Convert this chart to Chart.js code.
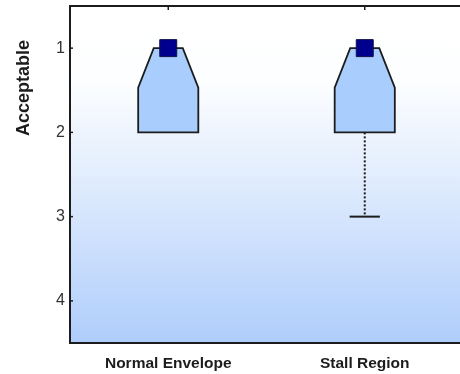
<!DOCTYPE html>
<html>
<head>
<meta charset="utf-8">
<script src="https://cdn.jsdelivr.net/npm/chart.js@4/dist/chart.umd.min.js"></script>
<style>
  html, body { margin: 0; padding: 0; background: #fff; overflow: hidden; width: 460px; height: 374px; }
  #wrap { width: 470px; height: 374px; }
</style>
</head>
<body>
<div id="wrap"><canvas id="c" width="470" height="374"></canvas></div>
<script>
// Ratings per flight condition (1 = best)
const categories = ['Normal Envelope', 'Stall Region'];
const lowerQuartile = [1, 1];
const medianRating = [1, 1];
const upperQuartile = [2, 2];
const notchBound = [1.47, 1.47];
const whiskerLow = [1, 1];
const whiskerHigh = [2, 3];
const ratingTicks = [1, 2, 3, 4];
const axisTitle = 'Acceptable';

const BOX_HALF = 0.153;   // half box width in category units
const NOTCH_HALF = 0.074; // half width at the narrow end of the notch
const CAP_HALF = 0.077;   // whisker cap half width
const INK = '#1c1c1c';
const FONT = '"Liberation Sans", Arial, sans-serif';

// keep the plot area exactly where the layout padding puts it
const noAutoPadding = s => {
  s.paddingTop = 0; s.paddingBottom = 0; s.paddingLeft = 0; s.paddingRight = 0;
};

const boxPlot = {
  id: 'boxPlot',
  beforeDraw(chart) {
    const { ctx, chartArea: a } = chart;
    const g = ctx.createLinearGradient(0, a.top, 0, a.bottom);
    g.addColorStop(0, '#ffffff');
    g.addColorStop(0.22, '#fdfeff');
    g.addColorStop(0.5, '#e2edfd');
    g.addColorStop(1, '#afcdfc');
    ctx.save();
    ctx.fillStyle = g;
    ctx.fillRect(a.left, a.top, a.right - a.left, a.bottom - a.top);
    ctx.restore();
  },
  beforeDatasetsDraw(chart) {
    const { ctx } = chart;
    const xs = chart.scales.x, ys = chart.scales.y;
    const w = v => xs.getPixelForValue(1 + v) - xs.getPixelForValue(1);
    const half = w(BOX_HALF), nh = w(NOTCH_HALF), ch = w(CAP_HALF);
    ctx.save();
    categories.forEach((c, i) => {
      const x = xs.getPixelForValue(i + 1);
      const y1 = ys.getPixelForValue(lowerQuartile[i]);
      const y3 = ys.getPixelForValue(upperQuartile[i]);
      const yn = ys.getPixelForValue(notchBound[i]);
      // whiskers
      ctx.strokeStyle = INK;
      ctx.lineWidth = 2;
      [[whiskerHigh[i], upperQuartile[i]], [whiskerLow[i], lowerQuartile[i]]].forEach(([wv, qv]) => {
        if (wv === qv) return;
        const yw = ys.getPixelForValue(wv);
        const yq = ys.getPixelForValue(qv);
        ctx.setLineDash([2, 2]);
        ctx.beginPath(); ctx.moveTo(x, yq); ctx.lineTo(x, yw); ctx.stroke();
        ctx.setLineDash([]);
        ctx.beginPath(); ctx.moveTo(x - ch, yw); ctx.lineTo(x + ch, yw); ctx.stroke();
      });
      // notched box
      ctx.beginPath();
      ctx.moveTo(x - nh, y1);
      ctx.lineTo(x + nh, y1);
      ctx.lineTo(x + half, yn);
      ctx.lineTo(x + half, y3);
      ctx.lineTo(x - half, y3);
      ctx.lineTo(x - half, yn);
      ctx.closePath();
      ctx.fillStyle = '#a9cefd';
      ctx.fill();
      ctx.lineWidth = 1.8;
      ctx.strokeStyle = INK;
      ctx.stroke();
    });
    ctx.restore();
  },
  afterDraw(chart) {
    const { ctx, chartArea: a } = chart;
    const xs = chart.scales.x, ys = chart.scales.y;
    ctx.save();
    ctx.strokeStyle = INK;
    ctx.lineWidth = 2;
    ctx.beginPath();
    ctx.moveTo(a.right + 5, a.top); ctx.lineTo(a.left, a.top);
    ctx.lineTo(a.left, a.bottom); ctx.lineTo(a.right + 5, a.bottom);
    ctx.stroke();
    ctx.lineWidth = 1.5;
    ratingTicks.forEach(v => {
      const y = ys.getPixelForValue(v);
      ctx.beginPath(); ctx.moveTo(a.left, y); ctx.lineTo(a.left + 3, y); ctx.stroke();
    });
    categories.forEach((c, i) => {
      const x = xs.getPixelForValue(i + 1);
      ctx.beginPath(); ctx.moveTo(x, a.top); ctx.lineTo(x, a.top + 4); ctx.stroke();
    });
    ctx.translate(24, 88);
    ctx.rotate(-Math.PI / 2);
    ctx.font = 'bold 18px ' + FONT;
    ctx.fillStyle = INK;
    ctx.textAlign = 'center';
    ctx.textBaseline = 'middle';
    ctx.fillText(axisTitle, 0, 0);
    ctx.restore();
  }
};

new Chart(document.getElementById('c'), {
  type: 'scatter',
  data: {
    datasets: [{
      data: medianRating.map((m, i) => ({ x: i + 1, y: m })),
      pointStyle: 'rect',
      pointRadius: 12,
      pointHoverRadius: 12,
      backgroundColor: '#00008f',
      borderColor: '#10104a',
      borderWidth: 1
    }]
  },
  options: {
    responsive: false,
    animation: false,
    events: [],
    layout: { autoPadding: false, padding: { top: 6, right: 7, left: 0, bottom: 0 } },
    plugins: { legend: { display: false }, tooltip: { enabled: false } },
    scales: {
      x: {
        type: 'linear', min: 0.5, max: 2.5,
        grid: { display: false, drawTicks: false }, border: { display: false },
        afterBuildTicks: s => { s.ticks = categories.map((c, i) => ({ value: i + 1 })); },
        afterFit: s => { s.height = 31; noAutoPadding(s); },
        ticks: {
          autoSkip: false, maxRotation: 0, padding: 11,
          color: INK,
          font: { family: FONT, size: 15.5, weight: 'bold' },
          callback: v => categories[Math.round(v) - 1]
        }
      },
      y: {
        type: 'linear', min: 0.5, max: 4.5, reverse: true,
        grid: { display: false, drawTicks: false }, border: { display: false },
        afterBuildTicks: s => { s.ticks = ratingTicks.map(v => ({ value: v })); },
        afterFit: s => { s.width = 70; noAutoPadding(s); },
        ticks: {
          padding: 5, color: '#333',
          font: { family: FONT, size: 16 },
          callback: v => String(v)
        }
      }
    }
  },
  plugins: [boxPlot]
});
</script>
</body>
</html>
